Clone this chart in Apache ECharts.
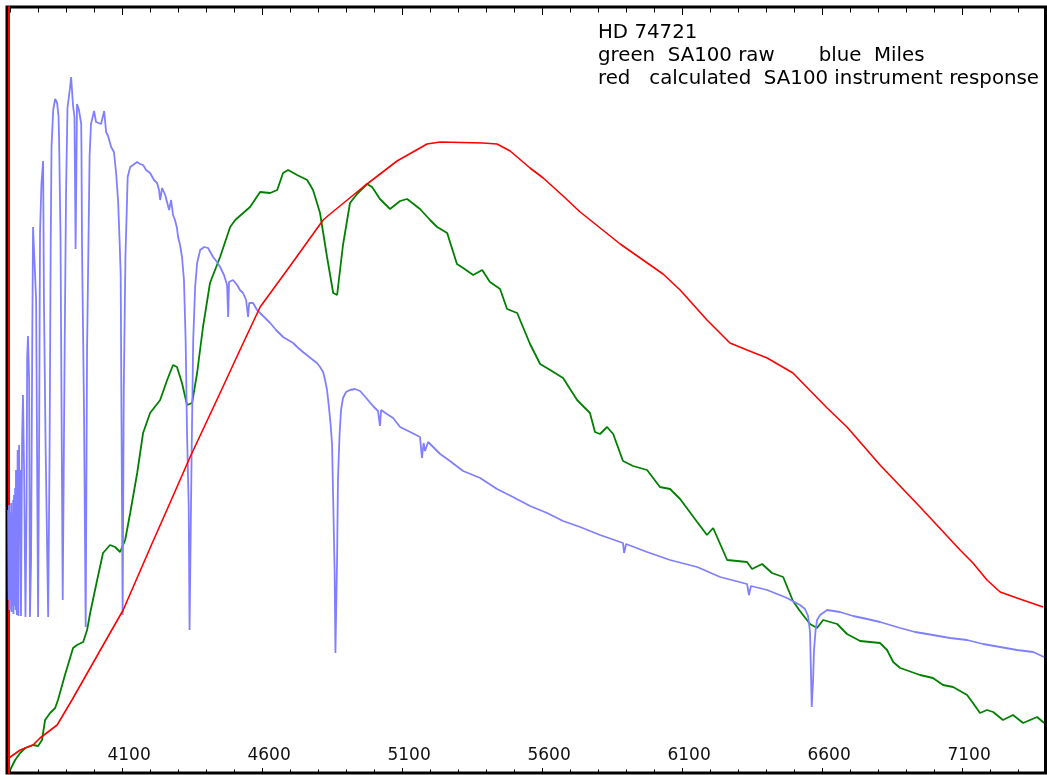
<!DOCTYPE html>
<html>
<head>
<meta charset="utf-8">
<style>
html,body{margin:0;padding:0;background:#fff;}
#chart{width:1047px;height:775px;}
</style>
<script src="https://cdn.jsdelivr.net/npm/echarts/dist/echarts.min.js"></script>
</head>
<body>
<div id="chart"></div>
<script>
// Wavelength (Angstrom) and relative flux values
var majorTicks = [4100, 4600, 5100, 5600, 6100, 6600, 7100];
var minorTicks = [3700,3800,3900,4000,4100,4200,4300,4400,4500,4600,4700,4800,4900,5000,5100,5200,5300,5400,5500,5600,5700,5800,5900,6000,6100,6200,6300,6400,6500,6600,6700,6800,6900,7000,7100,7200,7300];

var legendLines = ["HD 74721", "green  SA100 raw       blue  Miles", "red   calculated  SA100 instrument response"];

var redWave = [3696,3711,3736,3782,3807,3868,3921,3986,4057,4104,4200,4271,4343,4450,4521,4593,4700,4818,4843,4961,5082,5189,5236,5389,5439,5486,5557,5604,5675,5736,5879,6032,6093,6189,6271,6332,6404,6496,6618,6689,6807,6950,7093,7139,7189,7236,7296,7389];
var redFlux = [15,18,23,28,35,48,73,105,140,163,225,270,316,380,423,466,507,553,559,586,612,629,631,630,629,622,605,595,577,561,529,499,483,453,430,423,415,400,365,346,308,266,223,210,193,181,175,166];

var greenWave = [3700,3718,3736,3754,3782,3800,3814,3825,3843,3861,3871,3896,3925,3939,3961,3975,3986,4011,4032,4057,4075,4093,4111,4129,4154,4175,4200,4236,4261,4282,4296,4314,4332,4350,4368,4389,4414,4450,4486,4504,4557,4593,4629,4654,4675,4693,4725,4761,4782,4807,4832,4854,4868,4889,4914,4939,4975,4993,5021,5057,5093,5118,5164,5200,5225,5261,5296,5318,5354,5386,5414,5450,5475,5511,5557,5593,5629,5675,5725,5771,5789,5807,5832,5854,5889,5925,5975,6021,6057,6093,6154,6189,6211,6261,6332,6350,6386,6421,6461,6496,6521,6557,6582,6604,6654,6689,6736,6807,6832,6854,6879,6950,6996,7032,7068,7118,7139,7164,7189,7211,7246,7282,7318,7368,7393];
var greenFlux = [3,13,20,25,28,27,33,53,60,65,73,98,125,128,131,143,160,193,220,228,226,221,233,260,300,340,360,373,393,408,406,390,368,370,400,446,490,516,546,553,566,581,580,583,600,603,598,593,583,560,516,480,478,528,570,579,589,586,574,564,572,574,564,553,546,540,509,505,498,503,491,484,464,460,429,409,403,395,373,360,341,339,346,339,312,307,303,286,284,274,251,238,245,213,211,204,209,200,196,172,162,149,145,153,149,139,132,130,123,111,105,98,95,88,86,78,70,60,63,61,53,58,50,56,50];

var blueWave = [3693,3695,3696,3698,3700,3702,3704,3705,3707,3709,
3711,3712,3714,3716,3718,3720,3721,3724,3727,3730,
3732,3734,3736,3739,3743,3746,3750,3755,3759,3761,
3764,3768,3771,3775,3779,3782,3789,3793,3800,3804,
3807,3812,3818,3821,3827,3836,3841,3845,3848,3854,
3861,3868,3873,3875,3880,3888,3895,3900,3905,3914,
3918,3925,3930,3934,3939,3946,3954,3955,3957,3964,
3970,3975,3984,3989,4000,4007,4014,4025,4036,4043,
4050,4061,4071,4079,4086,4091,4095,4098,4102,4106,
4112,4120,4129,4139,4154,4164,4175,4186,4200,4214,
4225,4232,4236,4243,4254,4261,4268,4275,4282,4289,
4296,4300,4307,4314,4321,4327,4332,4338,4341,4348,
4354,4361,4368,4379,4393,4407,4425,4439,4450,4464,
4475,4479,4482,4496,4511,4521,4532,4543,4550,4554,
4568,4582,4593,4611,4629,4650,4675,4693,4711,4729,
4746,4764,4782,4796,4807,4818,4825,4832,4838,4845,
4850,4854,4859,4862,4868,4871,4877,4882,4889,4900,
4914,4932,4950,4975,4996,5014,5021,5025,5046,5068,
5093,5129,5164,5171,5177,5182,5193,5200,5236,5271,
5318,5379,5439,5496,5557,5618,5675,5736,5807,5889,
5893,5900,5975,6057,6154,6236,6332,6339,6346,6404,
6475,6521,6539,6550,6557,6561,6563,6568,6571,6577,
6582,6593,6618,6664,6711,6761,6807,6879,6932,6996,
7057,7118,7175,7236,7296,7354,7393];
var blueFlux = [263,173,268,163,261,173,270,161,258,168,
273,159,278,167,285,163,303,158,323,157,
328,273,303,157,335,378,303,156,273,416,
437,393,156,213,424,546,548,473,156,346,
541,589,612,471,324,156,317,524,626,663,
674,670,657,635,539,173,428,582,665,685,
696,667,656,524,669,663,649,621,524,364,
146,424,617,649,662,651,653,649,662,641,
637,626,621,599,571,533,499,350,158,383,
516,596,606,608,611,609,608,603,600,593,
590,583,573,585,578,580,563,573,558,553,
545,536,528,516,493,433,340,266,143,310,
433,486,510,523,526,525,516,511,506,498,
488,456,491,493,488,483,480,473,456,470,
470,463,460,455,450,443,436,433,430,425,
421,417,413,410,406,401,393,383,368,348,
328,273,203,120,216,293,340,363,375,381,
383,384,382,374,367,362,347,363,359,355,
346,341,336,315,330,322,331,329,319,312,
302,295,284,276,267,260,252,246,238,230,
220,229,221,213,206,196,189,178,187,183,
175,168,164,157,141,93,66,93,122,143,
153,158,163,161,157,154,151,145,141,138,
135,133,129,126,123,121,116];

function zip(a, b) { var out = []; for (var i = 0; i < a.length; i++) out.push([a[i], b[i]]); return out; }

var X_MIN = 3689, X_MAX = 7398;
var FONT = 'DejaVu Sans';

function tickAxis(pos, values, len, labels) {
  return {
    type: 'value', position: pos, min: X_MIN, max: X_MAX,
    axisLine: { show: false },
    splitLine: { show: false },
    axisTick: { show: true, inside: true, length: len, customValues: values, lineStyle: { color: '#000', width: 1 } },
    axisLabel: labels ? {
      show: true, inside: true, customValues: values, margin: 9,
      formatter: function (v) { return String(v); },
      color: '#111', fontFamily: FONT, fontSize: 17, padding: [0, 0, 0, 14]
    } : { show: false }
  };
}

var chart = echarts.init(document.getElementById('chart'), null, { renderer: 'canvas' });
chart.setOption({
  animation: false,
  backgroundColor: '#fff',
  title: {
    text: legendLines.join('\n'),
    left: 598, top: 21, padding: 0,
    textStyle: { fontFamily: FONT, fontSize: 19.8, fontWeight: 'normal', color: '#000', lineHeight: 23 }
  },
  grid: { left: 7, right: 1.5, top: 7, bottom: 2, show: true, borderColor: '#000', borderWidth: 3, backgroundColor: '#fff' },
  xAxis: [
    tickAxis('bottom', majorTicks, 5, true),
    tickAxis('bottom', minorTicks, 3.5, false),
    tickAxis('top', majorTicks, 8, false),
    tickAxis('top', minorTicks, 5.5, false)
  ],
  yAxis: [{
    type: 'value', min: 0, max: 766, position: 'left', offset: -1.5,
    axisLine: { show: true, lineStyle: { color: '#ff0000', width: 2 } },
    axisTick: { show: false }, axisLabel: { show: false }, splitLine: { show: false }
  }],
  series: [
    { name: 'SA100 raw', type: 'line', data: zip(greenWave, greenFlux), showSymbol: false, lineStyle: { color: '#008000', width: 1.8 }, z: 2 },
    { name: 'Miles', type: 'line', data: zip(blueWave, blueFlux), showSymbol: false, lineStyle: { color: '#8080ff', width: 1.8 }, z: 3 },
    { name: 'SA100 instrument response', type: 'line', data: zip(redWave, redFlux), showSymbol: false, lineStyle: { color: '#ff0000', width: 1.6 }, z: 4 }
  ]
});
</script>
</body>
</html>
